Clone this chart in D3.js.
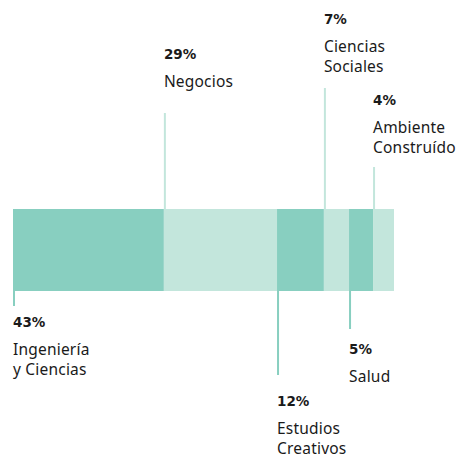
<!DOCTYPE html>
<html>
<head>
<meta charset="utf-8">
<script src="https://cdn.jsdelivr.net/npm/d3@7"></script>
<style>
  body { margin: 0; background: #fff; }
  text { font-family: "Noto Sans", sans-serif; fill: #1a1a1a; }
  text.pct { font-family: "DejaVu Sans", sans-serif; }
</style>
</head>
<body>
<div id="chart"></div>
<script>
// DATA
const areas = ["Ingeniería\ny Ciencias", "Negocios", "Estudios\nCreativos", "Ciencias\nSociales", "Salud", "Ambiente\nConstruído"];
const pctLabels = [43, 29, 12, 7, 5, 4];
// bar widths (share of the bar length)
const barShare = [39.6, 29.7, 12.3, 6.6, 6.3, 5.5];

// LAYOUT
const WIDTH = 460;
const HEIGHT = 457;
const BAR = { x0: 13, x1: 394, top: 209, bottom: 291 };
const DARK = '#88cfc0';
const LIGHT = '#c3e6dc';
// per item: leader length and baseline of the percent label
const leaderLen = [15, 96, 84, 121, 38, 42];
const pctBaseline = [327, 59, 406, 24, 354, 105];

const svg = d3.select('#chart')
  .append('svg')
  .attr('width', WIDTH)
  .attr('height', HEIGHT);

const x = d3.scaleLinear()
  .domain([0, d3.sum(barShare)])
  .range([BAR.x0, BAR.x1]);

const starts = d3.cumsum([0, ...barShare]).slice(0, barShare.length);
const items = areas.map((a, i) => ({
  name: a, pct: pctLabels[i], start: starts[i], val: barShare[i],
  below: i % 2 === 0, len: leaderLen[i], base: pctBaseline[i]
}));

// segments
svg.selectAll('rect.seg')
  .data(items)
  .join('rect')
  .attr('class', 'seg')
  .attr('x', d => x(d.start))
  .attr('y', BAR.top)
  .attr('width', d => x(d.start + d.val) - x(d.start))
  .attr('height', BAR.bottom - BAR.top)
  .attr('fill', d => d.below ? DARK : LIGHT);

// leader lines
svg.selectAll('rect.lead')
  .data(items)
  .join('rect')
  .attr('class', 'lead')
  .attr('x', d => x(d.start))
  .attr('y', d => d.below ? BAR.bottom : BAR.top - d.len)
  .attr('width', 2)
  .attr('height', d => d.len)
  .attr('fill', d => d.below ? DARK : LIGHT);

// labels
const lab = svg.selectAll('g.lab')
  .data(items)
  .join('g')
  .attr('class', 'lab')
  .attr('transform', d => `translate(${x(d.start)}, ${d.base})`);

lab.append('text')
  .attr('class', 'pct')
  .attr('font-size', 13.5)
  .attr('font-weight', 700)
  .text(d => d.pct + '%');

lab.append('text')
  .attr('font-size', 15.5)
  .attr('letter-spacing', 0.2)
  .attr('y', 28)
  .selectAll('tspan')
  .data(d => d.name.split('\n'))
  .join('tspan')
  .attr('x', 0)
  .attr('dy', (d, i) => i === 0 ? 0 : 20)
  .text(d => d);
</script>
</body>
</html>
